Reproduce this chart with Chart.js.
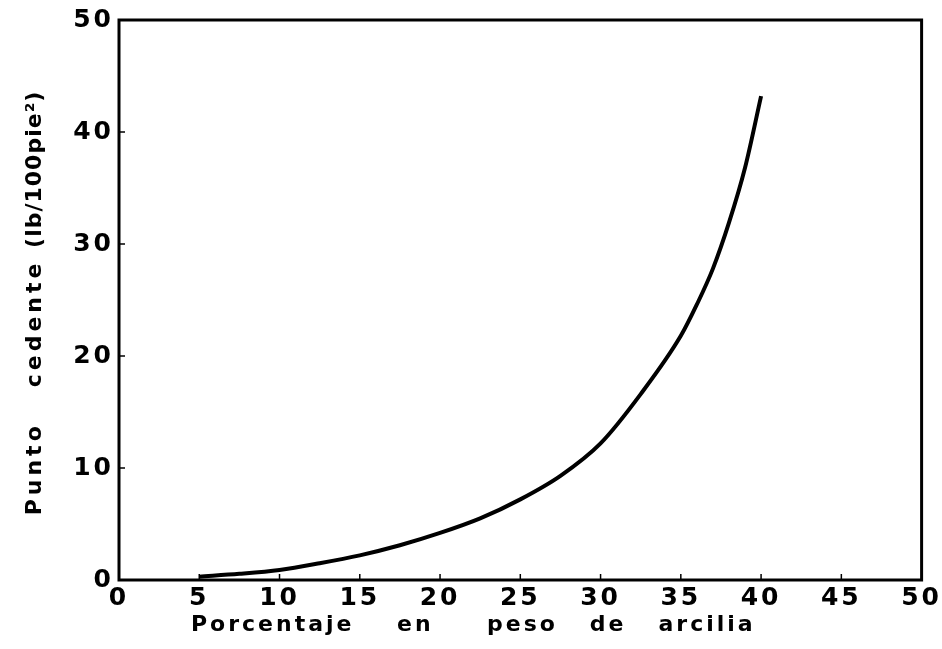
<!DOCTYPE html>
<html>
<head>
<meta charset="utf-8">
<script src="https://cdn.jsdelivr.net/npm/chart.js@4"></script>
<style>
    html, body { margin: 0; padding: 0; background: #ffffff; }
    #wrap { width: 942px; height: 649px; }
</style>
</head>
<body>
<div id="wrap"><canvas id="yieldChart"></canvas></div>
<script>
// clay weight percent vs yield point
const clayPercent = [5, 7.5, 10, 12.5, 15, 17.5, 20, 22.5, 25, 27.5, 30, 32.5, 35, 36, 37, 38, 39, 40];
const yieldPoint = [0.3, 0.55, 0.9, 1.5, 2.2, 3.1, 4.2, 5.5, 7.2, 9.3, 12.2, 16.6, 21.8, 24.6, 27.8, 31.9, 36.8, 43.2];
const xTicks = [0, 5, 10, 15, 20, 25, 30, 35, 40, 45, 50];
const yTicks = [0, 10, 20, 30, 40, 50];
const xTitle = 'Porcentaje    en     peso   de   arcilia';
const yTitleMain = 'Punto   cedente ';
const yTitleUnit = '(lb/100pie²)';

const ink = '#000000';
const fontFamily = "'DejaVu Sans', 'Liberation Sans', sans-serif";

// wide lettering like the original
const spacingPlugin = {
    id: 'spacing',
    beforeDraw(chart) {
        chart.ctx.letterSpacing = '3px';
    }
};

// heavy frame, small inward ticks and the two axis titles
const framePlugin = {
    id: 'frame',
    afterDraw(chart) {
        const { ctx, chartArea: a, scales } = chart;
        ctx.save();
        ctx.strokeStyle = ink;
        ctx.lineWidth = 3;
        ctx.strokeRect(a.left, a.top, a.right - a.left, a.bottom - a.top);
        ctx.lineWidth = 1.5;
        ctx.beginPath();
        xTicks.slice(1, -1).forEach(v => {
            const px = scales.x.getPixelForValue(v);
            ctx.moveTo(px, a.bottom);
            ctx.lineTo(px, a.bottom - 6);
        });
        yTicks.slice(1, -1).forEach(v => {
            const py = scales.y.getPixelForValue(v);
            ctx.moveTo(a.left, py);
            ctx.lineTo(a.left + 6, py);
        });
        ctx.stroke();

        ctx.fillStyle = ink;
        ctx.font = 'bold 22px ' + fontFamily;
        ctx.textBaseline = 'middle';

        // x title sits a bit left of the plot centre
        ctx.letterSpacing = '3px';
        ctx.textAlign = 'center';
        ctx.fillText(xTitle, (a.left + a.right) / 2 - 47, a.bottom + 45);

        // y title: spaced words, tighter unit
        ctx.textAlign = 'left';
        ctx.translate(35, (a.top + a.bottom) / 2 + 3);
        ctx.rotate(-Math.PI / 2);
        ctx.letterSpacing = '4px';
        const wMain = ctx.measureText(yTitleMain).width;
        ctx.letterSpacing = '1px';
        const wUnit = ctx.measureText(yTitleUnit).width;
        const start = -(wMain + wUnit) / 2;
        ctx.letterSpacing = '4px';
        ctx.fillText(yTitleMain, start, 0);
        ctx.letterSpacing = '1px';
        ctx.fillText(yTitleUnit, start + wMain, 0);
        ctx.restore();
    }
};

new Chart(document.getElementById('yieldChart'), {
    type: 'line',
    data: {
        datasets: [{
            data: clayPercent.map((x, i) => ({ x: x, y: yieldPoint[i] })),
            borderColor: ink,
            borderWidth: 4,
            pointRadius: 0,
            fill: false,
            cubicInterpolationMode: 'monotone'
        }]
    },
    options: {
        responsive: true,
        maintainAspectRatio: false,
        animation: false,
        layout: {
            padding: { left: 0, right: 18, top: 15, bottom: 0 }
        },
        plugins: {
            legend: { display: false },
            tooltip: { enabled: false }
        },
        scales: {
            x: {
                type: 'linear',
                min: 0,
                max: 50,
                afterBuildTicks: scale => { scale.ticks = xTicks.map(v => ({ value: v })); },
                afterFit: scale => { scale.height = 69; },
                grid: { display: false, drawTicks: false },
                border: { display: false },
                ticks: {
                    color: ink,
                    padding: 3,
                    maxRotation: 0,
                    font: { family: fontFamily, size: 25, weight: 'bold' }
                }
            },
            y: {
                type: 'linear',
                min: 0,
                max: 50,
                afterBuildTicks: scale => { scale.ticks = yTicks.map(v => ({ value: v })); },
                afterFit: scale => { scale.width = 119; },
                grid: { display: false, drawTicks: false },
                border: { display: false },
                ticks: {
                    color: ink,
                    padding: 5,
                    font: { family: fontFamily, size: 25, weight: 'bold' }
                }
            }
        }
    },
    plugins: [spacingPlugin, framePlugin]
});
</script>
</body>
</html>
